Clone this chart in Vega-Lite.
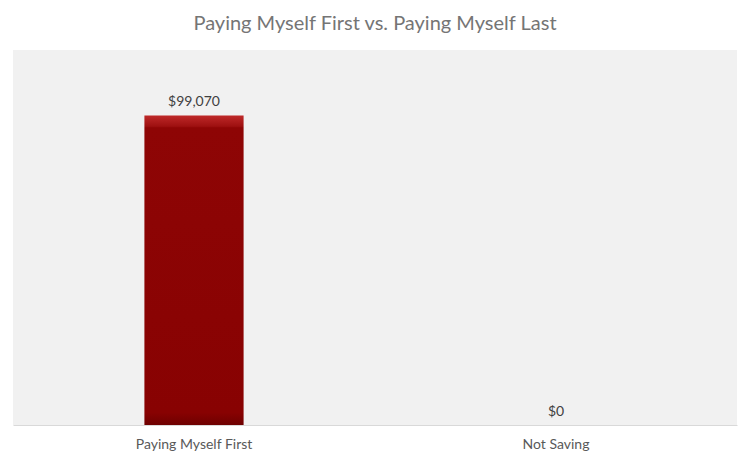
{
  "$schema": "https://vega.github.io/schema/vega-lite/v6.json",
  "autosize": {"type": "none"},
  "width": 724,
  "height": 375,
  "padding": {"left": 13, "top": 50, "right": 13, "bottom": 36},
  "background": "white",
  "title": {
    "text": "Paying Myself First vs. Paying Myself Last",
    "font": "Lato",
    "fontSize": 20,
    "fontWeight": "normal",
    "color": "#757575",
    "anchor": "middle",
    "baseline": "alphabetic",
    "offset": 0
  },
  "data": {
    "values": [
      {"category": "Paying Myself First", "amount": 99070},
      {"category": "Not Saving", "amount": 0}
    ]
  },
  "encoding": {
    "x": {
      "field": "category",
      "type": "nominal",
      "sort": null,
      "scale": {"paddingInner": 0.726, "paddingOuter": 0.363},
      "axis": {
        "title": null,
        "labelAngle": 0,
        "ticks": false,
        "domainColor": "#d9d9d9",
        "domainWidth": 1,
        "labelFont": "Lato",
        "labelFontSize": 14,
        "labelColor": "#595959",
        "labelPadding": 12
      }
    },
    "y": {
      "field": "amount",
      "type": "quantitative",
      "scale": {"domain": [0, 120000], "nice": false},
      "axis": null
    }
  },
  "layer": [
    {
      "mark": {
        "type": "bar",
        "fill": {
          "gradient": "linear",
          "x1": 0, "y1": 0, "x2": 0, "y2": 1,
          "stops": [
            {"offset": 0, "color": "#bf2a2a"},
            {"offset": 0.035, "color": "#9e1010"},
            {"offset": 0.04, "color": "#8e0505"},
            {"offset": 0.96, "color": "#880202"},
            {"offset": 1, "color": "#6e0000"}
          ]
        },
        "strokeWidth": 0
      }
    },
    {
      "mark": {
        "type": "text",
        "baseline": "alphabetic",
        "dy": -9,
        "font": "Lato",
        "fontSize": 14,
        "color": "#404040"
      },
      "encoding": {
        "text": {"field": "amount", "type": "quantitative", "format": "$,.0f"}
      }
    }
  ],
  "config": {
    "view": {"fill": "#f1f1f1", "stroke": null}
  }
}
